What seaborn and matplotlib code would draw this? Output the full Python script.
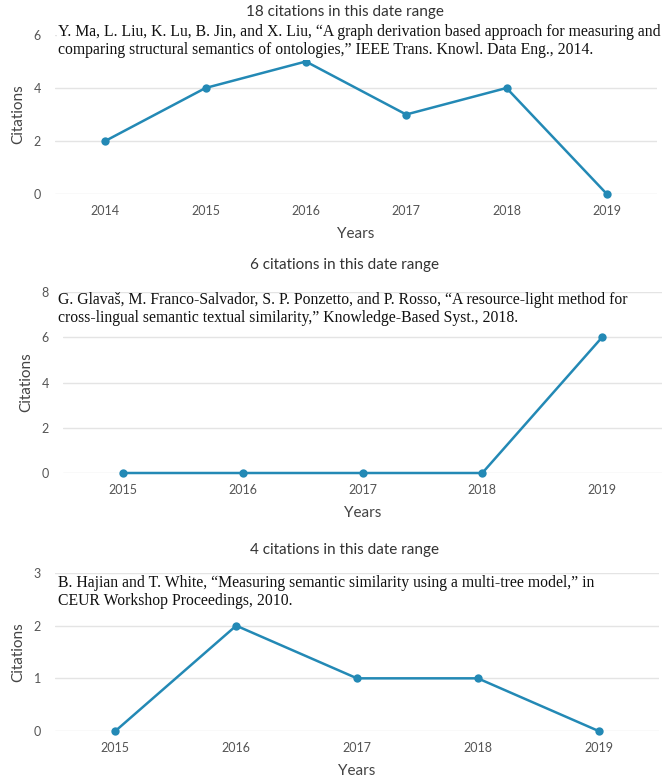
import pandas as pd
import matplotlib.pyplot as plt
import seaborn as sns

# citation counts per year for three papers
years1 = [2014, 2015, 2016, 2017, 2018, 2019]
cites1 = [2, 4, 5, 3, 4, 0]
years2 = [2015, 2016, 2017, 2018, 2019]
cites2 = [0, 0, 0, 0, 6]
years3 = [2015, 2016, 2017, 2018, 2019]
cites3 = [0, 2, 1, 1, 0]

titles = ['18 citations in this date range',
          '6 citations in this date range',
          '4 citations in this date range']
refs = [
    'Y. Ma, L. Liu, K. Lu, B. Jin, and X. Liu, \u201cA graph derivation based approach for measuring and\n'
    'comparing structural semantics of ontologies,\u201d IEEE Trans. Knowl. Data Eng., 2014.',
    'G. Glava\u0161, M. Franco-Salvador, S. P. Ponzetto, and P. Rosso, \u201cA resource-light method for\n'
    'cross-lingual semantic textual similarity,\u201d Knowledge-Based Syst., 2018.',
    'B. Hajian and T. White, \u201cMeasuring semantic similarity using a multi-tree model,\u201d in\n'
    'CEUR Workshop Proceedings, 2010.',
]
yticks = [[0, 2, 4, 6], [0, 2, 4, 6, 8], [0, 1, 2, 3]]

sns.set_style('white')
plt.rcParams['font.family'] = ['Lato', 'DejaVu Sans']

W, H = 665, 782
fig = plt.figure(figsize=(W / 100, H / 100), dpi=100)

line_color = '#2389b5'

# pixel boxes: left, right, top (max tick), bottom (zero)
boxes = [(55, 657, 35, 194), (63, 662, 292, 473), (55, 659, 573, 731)]
xlims = [(2013.5, 2019.5), (2014.5, 2019.5), (2014.5, 2019.5)]
title_y = [12, 265, 550]
ref_y = [41, 309, 592]

datasets = [(years1, cites1), (years2, cites2), (years3, cites3)]

for i, (yrs, vals) in enumerate(datasets):
    l, r, t, b = boxes[i]
    ax = fig.add_axes([l / W, 1 - b / H, (r - l) / W, (b - t) / H])
    df = pd.DataFrame({'Years': yrs, 'Citations': vals})
    sns.lineplot(data=df, x='Years', y='Citations', ax=ax, color=line_color,
                 marker='o', markersize=6, markeredgewidth=0, linewidth=1.8,
                 clip_on=False)
    ax.set_xlim(*xlims[i])
    ax.set_ylim(yticks[i][0], yticks[i][-1])
    ax.set_xticks(yrs)
    ax.set_yticks(yticks[i])
    ax.grid(axis='y', color='#e4e4e4', linewidth=1)
    ax.set_axisbelow(True)
    for s in ax.spines.values():
        s.set_visible(False)
    ax.tick_params(axis='both', length=0, labelsize=9, colors='#555555')
    ax.tick_params(axis='x', pad=8)
    ax.tick_params(axis='y', pad=10)
    ax.set_xlabel('Years', fontsize=11, color='#444444', labelpad=7)
    ax.set_ylabel('Citations', fontsize=11, color='#444444', labelpad=6)

    fig.text(345 / W, 1 - title_y[i] / H, titles[i], ha='center', va='center',
             fontsize=11, color='#333333')
    bbox = dict(facecolor='white', edgecolor='none', pad=1) if i == 0 else None
    fig.text(58 / W, 1 - ref_y[i] / H, refs[i], ha='left', va='center',
             fontsize=11.3, family='Liberation Serif', color='#111111',
             linespacing=1.22, bbox=bbox)

plt.savefig('out.png', dpi=100)
